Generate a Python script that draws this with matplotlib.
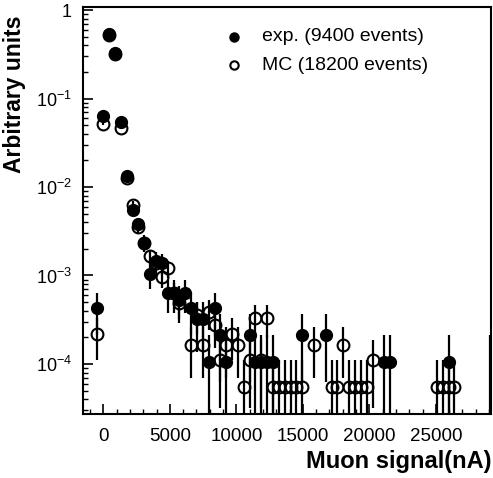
import numpy as np
import matplotlib.pyplot as plt
from matplotlib.ticker import MultipleLocator, LogLocator, NullFormatter, FixedLocator

plt.rcParams['font.family'] = ['Liberation Sans', 'DejaVu Sans']
plt.rcParams['mathtext.fontset'] = 'custom'
plt.rcParams['mathtext.rm'] = 'Liberation Sans'
plt.rcParams['mathtext.it'] = 'Liberation Sans'
plt.rcParams['mathtext.bf'] = 'Liberation Sans:bold'

# bin width of the histogram (nA) and bin index of every point
bin_width = 440

exp_bin = [-1, 0, 1, 2, 3, 4, 5, 6, 7, 8, 9, 10, 11, 12, 13, 14, 15, 16, 17, 18,
           19, 20, 21, 25, 26, 27, 28, 29, 34, 38, 48, 49, 59]
exp_val = [4.26e-4, 0.064, 0.54, 0.33, 0.054, 0.0135, 0.0055, 0.0038, 0.00235, 0.00104,
           0.00145, 0.00138, 6.4e-4, 6.4e-4, 5.3e-4, 6.4e-4, 4.26e-4, 3.19e-4, 3.19e-4, 1.06e-4,
           4.26e-4, 2.13e-4, 1.06e-4, 2.13e-4, 1.06e-4, 1.06e-4, 1.06e-4, 1.06e-4, 2.13e-4, 2.13e-4,
           1.06e-4, 1.06e-4, 1.06e-4]
exp_err = [2.13e-4, 0.0026, 0.0076, 0.0059, 0.0024, 0.0012, 7.6e-4, 6.4e-4, 5.0e-4, 3.4e-4,
           3.9e-4, 3.8e-4, 2.6e-4, 2.6e-4, 2.38e-4, 2.6e-4, 2.13e-4, 1.84e-4, 1.84e-4, 1.06e-4,
           2.13e-4, 1.5e-4, 1.06e-4, 1.5e-4, 1.06e-4, 1.06e-4, 1.06e-4, 1.06e-4, 1.5e-4, 1.5e-4,
           1.06e-4, 1.06e-4, 1.06e-4]

mc_bin = [-1, 0, 1, 2, 3, 4, 5, 6, 7, 8, 9, 10, 11, 12, 13, 15, 16, 17, 18, 19,
          20, 21, 22, 23, 24, 25, 26, 27, 28, 29, 30, 31, 32, 33, 34, 36, 39, 40, 41,
          42, 43, 44, 45, 46, 57, 58, 59, 60]
mc_val = [2.2e-4, 0.052, 0.52, 0.32, 0.047, 0.0128, 0.0063, 0.0035, 0.0023, 0.00164,
          0.0014, 9.6e-4, 0.0012, 6.4e-4, 4.9e-4, 1.65e-4, 3.6e-4, 1.65e-4, 3.84e-4, 2.75e-4,
          1.1e-4, 1.65e-4, 2.2e-4, 1.65e-4, 5.5e-5, 1.1e-4, 3.3e-4, 1.1e-4, 3.3e-4, 5.5e-5,
          5.5e-5, 5.5e-5, 5.5e-5, 5.5e-5, 5.5e-5, 1.65e-4, 5.5e-5, 5.5e-5, 1.65e-4,
          5.5e-5, 5.5e-5, 5.5e-5, 5.5e-5, 1.1e-4, 5.5e-5, 5.5e-5, 5.5e-5, 5.5e-5]
mc_err = [1.1e-4, 0.0017, 0.0054, 0.0042, 0.0016, 8.4e-4, 5.9e-4, 4.4e-4, 3.6e-4, 3.0e-4,
          2.8e-4, 2.3e-4, 2.6e-4, 1.9e-4, 1.64e-4, 9.5e-5, 1.4e-4, 9.5e-5, 1.45e-4, 1.23e-4,
          7.8e-5, 9.5e-5, 1.1e-4, 9.5e-5, 5.5e-5, 7.8e-5, 1.34e-4, 7.8e-5, 1.34e-4, 5.5e-5,
          5.5e-5, 5.5e-5, 5.5e-5, 5.5e-5, 5.5e-5, 9.5e-5, 5.5e-5, 5.5e-5, 9.5e-5,
          5.5e-5, 5.5e-5, 5.5e-5, 5.5e-5, 7.8e-5, 5.5e-5, 5.5e-5, 5.5e-5, 5.5e-5]

# last exp. bin sits on the frame edge: only its error bar is visible
edge_bin = [66]
edge_val = [1.06e-4]
edge_err = [1.06e-4]

exp_x = np.array(exp_bin) * bin_width
mc_x = np.array(mc_bin) * bin_width
edge_x = np.array(edge_bin) * bin_width

fig = plt.figure(figsize=(4.93, 4.78), dpi=100)
ax = fig.add_axes([0.168, 0.134, 0.828, 0.851])
ax.set_yscale('log')

ax.errorbar(exp_x, exp_val, yerr=exp_err, fmt='o', color='black', ms=8.5,
            elinewidth=1.6, capsize=0, zorder=3)
ax.errorbar(mc_x, mc_val, yerr=mc_err, fmt='o', mfc='none', mec='black', mew=1.5,
            color='black', ms=8.5, elinewidth=1.6, capsize=0, zorder=4)
ax.errorbar(edge_x, edge_val, yerr=edge_err, fmt='none', ecolor='black',
            elinewidth=1.6, capsize=0)

ax.set_xlim(-1540, 29150)
ax.set_ylim(2.72e-5, 1.08)

# axis ticks
ax.xaxis.set_major_locator(MultipleLocator(5000))
ax.xaxis.set_minor_locator(MultipleLocator(1000))
ax.yaxis.set_major_locator(FixedLocator([1e-4, 1e-3, 1e-2, 1e-1, 1]))
ax.yaxis.set_minor_locator(LogLocator(base=10, subs=np.arange(2, 10)))
ax.yaxis.set_minor_formatter(NullFormatter())
ax.set_yticklabels(['$10^{-4}$', '$10^{-3}$', '$10^{-2}$', '$10^{-1}$', '1'])
ax.tick_params(which='both', direction='in', top=False, right=False)
ax.tick_params(axis='x', labelsize=13.5, pad=10)
ax.tick_params(axis='y', labelsize=13, pad=8)
ax.tick_params(which='major', length=7, width=1.2)
ax.tick_params(which='minor', length=3.6, width=1.0)
for s in ax.spines.values():
    s.set_linewidth(1.5)

ax.set_xlabel('Muon signal(nA)', fontsize=17, fontweight='bold', loc='right')
ax.set_ylabel('Arbitrary units', fontsize=16.5, fontweight='bold')
ax.yaxis.set_label_coords(-0.14, 0.785)

# legend drawn by hand, like the original
ax.plot([0.37], [0.927], 'o', color='black', ms=6.5, transform=ax.transAxes)
ax.plot([0.37], [0.857], 'o', mfc='none', mec='black', mew=1.5, ms=6, transform=ax.transAxes)
ax.text(0.44, 0.927, 'exp. (9400 events)', fontsize=14, va='center', transform=ax.transAxes)
ax.text(0.44, 0.857, 'MC (18200 events)', fontsize=14, va='center', transform=ax.transAxes)

fig.savefig('out.png', dpi=100)
